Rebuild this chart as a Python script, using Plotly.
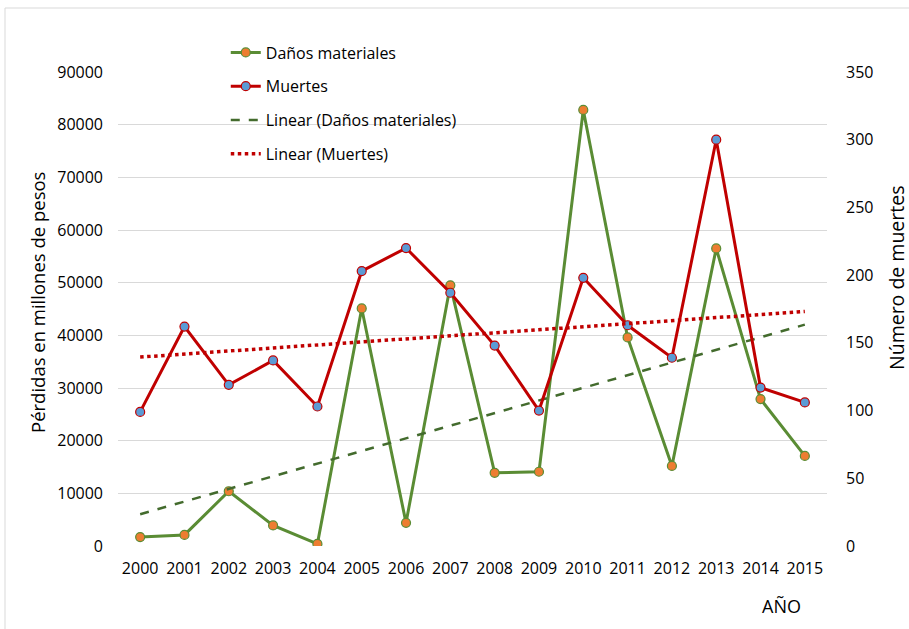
import numpy as np
import plotly.graph_objects as go

# Años del periodo analizado
anios = ["2000", "2001", "2002", "2003", "2004", "2005", "2006", "2007",
         "2008", "2009", "2010", "2011", "2012", "2013", "2014", "2015"]

# Pérdidas por daños materiales (millones de pesos)
danos = [1700, 2100, 10400, 3900, 400, 45100, 4400, 49500,
         13900, 14100, 82800, 39600, 15200, 56500, 27900, 17100]

# Número de muertes por año
muertes = [99, 162, 119, 137, 103, 203, 220, 187,
           148, 100, 198, 163, 139, 300, 117, 106]

# Ticks de los ejes
ticks_izq = [0, 10000, 20000, 30000, 40000, 50000, 60000, 70000, 80000, 90000]
ticks_der = [0, 50, 100, 150, 200, 250, 300, 350]

# Tendencias lineales por mínimos cuadrados
idx = np.arange(len(anios))
p_danos = np.polyfit(idx, danos, 1)
p_muertes = np.polyfit(idx, muertes, 1)
tend_danos = np.polyval(p_danos, idx)
tend_muertes = np.polyval(p_muertes, idx)

VERDE = "#5A8C34"
NARANJA = "#ED7D31"
ROJO = "#C00000"
AZUL = "#5B9BD5"
FUENTE = "Open Sans"

fig = go.Figure()

fig.add_trace(go.Scatter(
    x=anios, y=danos, name="Daños materiales", mode="lines+markers",
    line=dict(color=VERDE, width=3),
    marker=dict(size=9, color=NARANJA, line=dict(color=VERDE, width=1.2)),
    legendgroup="a", yaxis="y",
))
fig.add_trace(go.Scatter(
    x=anios, y=muertes, name="Muertes", mode="lines+markers",
    line=dict(color=ROJO, width=3),
    marker=dict(size=9, color=AZUL, line=dict(color=ROJO, width=1.2)),
    legendgroup="b", yaxis="y2",
))
fig.add_trace(go.Scatter(
    x=anios, y=tend_danos, name="Linear (Daños materiales)", mode="lines",
    line=dict(color="#436B2D", width=2.5, dash="dash"),
    legendgroup="c", yaxis="y",
))
fig.add_trace(go.Scatter(
    x=anios, y=tend_muertes, name="Linear (Muertes)", mode="lines",
    line=dict(color=ROJO, width=3.5, dash="dot"),
    legendgroup="d", yaxis="y2",
))

fig.update_layout(
    width=909, height=629,
    margin=dict(l=118, r=82, t=72, b=83),
    paper_bgcolor="white", plot_bgcolor="white",
    font=dict(family=FUENTE, size=16, color="#000000"),
    showlegend=True,
    legend=dict(
        x=0.152, y=1.077, xanchor="left", yanchor="top",
        bgcolor="rgba(0,0,0,0)", tracegroupgap=10,
        font=dict(family=FUENTE, size=16, color="#000000"),
    ),
    xaxis=dict(
        type="category", range=[-0.5, 15.5],
        showgrid=False, showline=False, zeroline=False,
        tickfont=dict(family=FUENTE, size=16),
        ticklabelstandoff=11,
    ),
    yaxis=dict(
        range=[0, 90000], tickvals=ticks_izq,
        ticktext=[str(v) for v in ticks_izq],
        showgrid=True, gridcolor="#D9D9D9", gridwidth=1,
        zeroline=False, showline=False,
        tickfont=dict(family=FUENTE, size=16),
        ticklabelstandoff=14,
    ),
    yaxis2=dict(
        range=[0, 350], tickvals=ticks_der,
        ticktext=[str(v) for v in ticks_der],
        overlaying="y", side="right",
        showgrid=False, zeroline=False, showline=False,
        tickfont=dict(family=FUENTE, size=16),
        ticklabelstandoff=18,
    ),
    annotations=[
        dict(text="Pérdidas en millones de pesos", textangle=-90,
             xref="paper", yref="paper", x=(37 - 118) / 709, y=(546 - 303) / 474,
             xanchor="center", yanchor="middle", showarrow=False,
             font=dict(family=FUENTE, size=18.5)),
        dict(text="Número de muertes", textangle=-90,
             xref="paper", yref="paper", x=(896 - 118) / 709, y=(546 - 278) / 474,
             xanchor="center", yanchor="middle", showarrow=False,
             font=dict(family=FUENTE, size=19.5)),
        dict(text="AÑO", xref="paper", yref="paper",
             x=(781 - 118) / 709, y=(546 - 606) / 474,
             xanchor="center", yanchor="middle", showarrow=False,
             font=dict(family=FUENTE, size=18)),
    ],
    shapes=[
        dict(type="rect", xref="paper", yref="paper",
             x0=(5 - 118) / 709, x1=2, y0=-1, y1=(546 - 8) / 474,
             line=dict(color="#D9D9D9", width=1), fillcolor="rgba(0,0,0,0)",
             layer="below"),
    ],
)

fig.write_html("out.html")
